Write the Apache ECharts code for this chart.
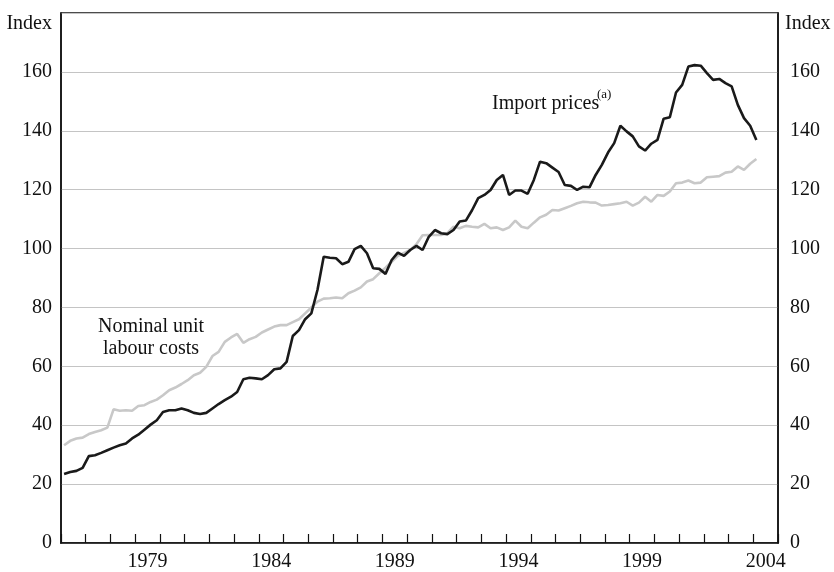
<!DOCTYPE html>
<html>
<head>
<meta charset="utf-8">
<script src="https://cdn.jsdelivr.net/npm/echarts@6/dist/echarts.min.js"></script>
<style>
  html, body { margin: 0; padding: 0; background: #fff; }
  #chart { width: 834px; height: 572px; }
</style>
</head>
<body>
<div id="chart"></div>
<script>
// quarterly data, 1976 Q1 .. 2004 Q1
const startYear = 1976;
const years = [];
for (let y = 1976; y <= 2004; y++) years.push(String(y));
const yTicks = [0, 20, 40, 60, 80, 100, 120, 140, 160];

const importPrices = [
  23.4, 24.1, 24.5, 25.5,  29.5, 29.8, 30.6, 31.5,  32.4, 33.2, 33.8, 35.5,
  36.8, 38.5, 40.2, 41.7,  44.5, 45.1, 45.1, 45.7,  45.1, 44.2, 43.8, 44.2,
  45.7, 47.2, 48.5, 49.7,  51.3, 55.6, 56.1, 55.9,  55.6, 57.0, 59.0, 59.3,
  61.5, 70.3, 72.3, 76.0,  78.0, 86.0, 97.2, 96.9,  96.7, 94.7, 95.5, 99.8,
  100.9, 98.4, 93.3, 93.1, 91.4, 96.1, 98.6, 97.5,  99.5, 100.9, 99.5, 104.0,
  106.3, 105.2, 104.9, 106.3, 109.2, 109.5, 113.0, 117.1, 118.2, 119.9, 123.3, 125.0,
  118.2, 119.7, 119.7, 118.6, 123.3, 129.5, 129.0, 127.5, 126.0, 121.6, 121.3, 119.9,
  121.0, 120.8, 125.0, 128.4, 132.6, 135.8, 141.7, 139.8, 138.1, 134.7, 133.3, 135.6,
  136.9, 144.1, 144.6, 153.0, 155.6, 161.8, 162.3, 162.1, 159.6, 157.3, 157.6, 156.2,
  155.1, 148.8, 144.3, 141.7, 136.9
];

const unitLabourCosts = [
  33.2, 34.7, 35.5, 35.8,  37.0, 37.7, 38.3, 39.2,  45.4, 44.9, 45.1, 44.9,
  46.5, 46.8, 47.9, 48.7,  50.2, 51.9, 52.8, 54.0,  55.3, 57.0, 57.8, 59.8,
  63.5, 64.9, 68.3, 69.8,  71.0, 68.0, 69.2, 70.0,  71.5, 72.5, 73.5, 74.0,
  74.0, 75.0, 76.0, 78.0,  80.0, 82.0, 83.0, 83.1,  83.4, 83.1, 84.8, 85.7,
  86.8, 88.8, 89.6, 91.6,  93.5, 95.5, 97.5, 98.5,  99.5, 101.5, 104.5, 104.6,
  104.6, 104.6, 105.2, 107.4, 106.9, 107.7, 107.4, 107.2, 108.4, 106.9, 107.2, 106.3,
  107.2, 109.5, 107.4, 106.9, 108.8, 110.6, 111.5, 113.1, 112.9, 113.7, 114.5, 115.4,
  115.9, 115.7, 115.6, 114.6, 114.8, 115.1, 115.4, 115.9, 114.6, 115.6, 117.6, 115.9,
  118.2, 117.9, 119.4, 122.2, 122.4, 123.1, 122.2, 122.4, 124.2, 124.4, 124.6, 125.8,
  126.1, 127.9, 126.7, 128.8, 130.4
];

// mid-quarter position in years
function toPairs(arr) {
  return arr.map((v, i) => [startYear + 0.125 + i * 0.25, v]);
}

const font = 'Liberation Serif, Times New Roman, serif';
const chart = echarts.init(document.getElementById('chart'));

const yAxisBase = {
  type: 'value',
  min: 0,
  max: 180,
  interval: 20,
  axisLine: { show: true, lineStyle: { color: '#111', width: 1.5 } },
  axisTick: { show: false },
  splitLine: { show: true, lineStyle: { color: '#c4c4c4', width: 1.2 } },
  axisLabel: {
    color: '#111',
    fontFamily: font,
    fontSize: 20,
    formatter: v => (v === 180 ? '' : v)
  }
};

chart.setOption({
  animation: false,
  grid: {
    left: 61, right: 56, top: 13, bottom: 29,
    show: true, borderColor: '#111', borderWidth: 1.5
  },
  xAxis: [
    {
      // yearly tick marks
      type: 'value', min: 1976, max: 2005, interval: 1,
      axisLine: { show: false },
      axisTick: { show: true, inside: true, length: 9, lineStyle: { color: '#111', width: 1.2 } },
      axisLabel: { show: false },
      splitLine: { show: false }
    },
    {
      // year labels centred in each year
      type: 'category',
      data: years,
      position: 'bottom',
      boundaryGap: true,
      axisLine: { lineStyle: { color: '#111', width: 1.5 } },
      axisTick: { show: false },
      axisLabel: {
        color: '#111', fontFamily: font, fontSize: 20, margin: 9,
        interval: (idx, val) => (Number(val) - 1979) % 5 === 0
      },
      splitLine: { show: false }
    }
  ],
  yAxis: [
    Object.assign({}, yAxisBase, { position: 'left', axisLabel: Object.assign({}, yAxisBase.axisLabel, { margin: 9 }) }),
    Object.assign({}, yAxisBase, { position: 'right', splitLine: { show: false }, axisLabel: Object.assign({}, yAxisBase.axisLabel, { margin: 12 }) })
  ],
  series: [
    {
      name: 'Nominal unit labour costs',
      type: 'line',
      xAxisIndex: 0,
      yAxisIndex: 0,
      showSymbol: false,
      data: toPairs(unitLabourCosts),
      lineStyle: { color: '#c8c8c8', width: 2.6 },
      z: 2
    },
    {
      name: 'Import prices',
      type: 'line',
      xAxisIndex: 0,
      yAxisIndex: 0,
      showSymbol: false,
      data: toPairs(importPrices),
      lineStyle: { color: '#1a1a1a', width: 2.6 },
      z: 3
    }
  ],
  graphic: [
    { type: 'text', x: 52, y: 24, style: { text: 'Index', font: '20px ' + font, fill: '#111', align: 'right', verticalAlign: 'middle' } },
    { type: 'text', x: 785, y: 24, style: { text: 'Index', font: '20px ' + font, fill: '#111', align: 'left', verticalAlign: 'middle' } },
    { type: 'text', x: 492, y: 104, style: { text: 'Import prices', font: '20px ' + font, fill: '#111', align: 'left', verticalAlign: 'middle' } },
    { type: 'text', x: 597, y: 95, style: { text: '(a)', font: '13px ' + font, fill: '#111', align: 'left', verticalAlign: 'middle' } },
    { type: 'text', x: 151, y: 327, style: { text: 'Nominal unit', font: '20px ' + font, fill: '#111', align: 'center', verticalAlign: 'middle' } },
    { type: 'text', x: 151, y: 349, style: { text: 'labour costs', font: '20px ' + font, fill: '#111', align: 'center', verticalAlign: 'middle' } }
  ]
});
</script>
</body>
</html>
